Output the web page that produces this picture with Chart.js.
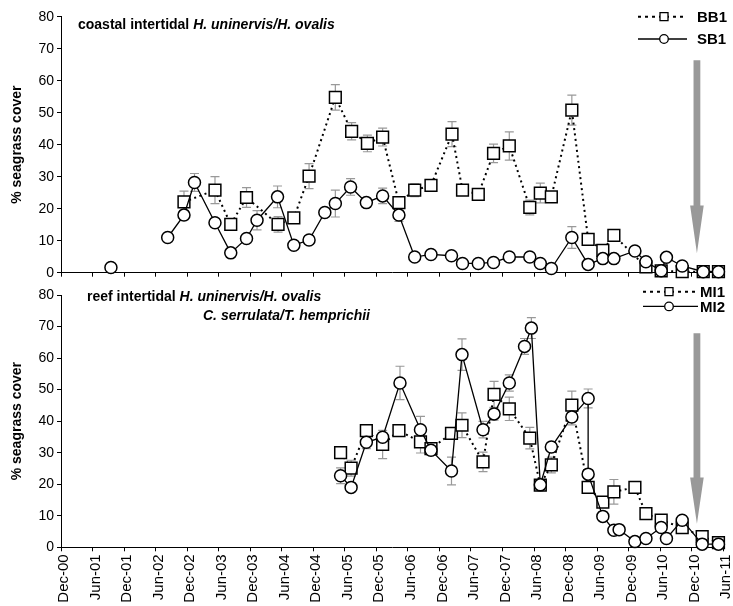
<!DOCTYPE html>
<html>
<head>
<meta charset="utf-8">
<script src="https://cdn.jsdelivr.net/npm/chart.js@4.4.1/dist/chart.umd.min.js"></script>
<style>
  body { margin: 0; background: #fff; }
  #wrap { position: relative; width: 733px; height: 606px; font-family: Arial, "Liberation Sans", sans-serif; }
  #wrap canvas { position: absolute; left: 0; }
  .ttl { position: absolute; font-weight: bold; font-size: 14px; line-height: 16px; white-space: nowrap; color: #000; }
</style>
</head>
<body>
<div id="wrap">
  <canvas id="topChart" width="733" height="285" style="top:0"></canvas>
  <canvas id="bottomChart" width="733" height="321" style="top:285px"></canvas>
  <div class="ttl" style="left:78px;top:16px">coastal intertidal <i>H. uninervis/H. ovalis</i></div>
  <div class="ttl" style="left:87px;top:288px">reef intertidal <i>H. uninervis/H. ovalis</i></div>
  <div class="ttl" style="left:203px;top:307px"><i>C. serrulata/T. hemprichii</i></div>
</div>
<script>
// months counted from Dec-00
let tickLabels = ['Dec-00', 'Jun-01', 'Dec-01', 'Jun-02', 'Dec-02', 'Jun-03', 'Dec-03', 'Jun-04',
  'Dec-04', 'Jun-05', 'Dec-05', 'Jun-06', 'Dec-06', 'Jun-07', 'Dec-07', 'Jun-08', 'Dec-08',
  'Jun-09', 'Dec-09', 'Jun-10', 'Dec-10', 'Jun-11'];

// coastal intertidal
let bb1Month = [23.4, 29.3, 32.3, 35.3, 41.3, 44.3, 47.2, 52.2, 55.3, 58.3, 61.2, 64.3, 67.3, 70.4, 74.4, 76.4,
  79.4, 82.3, 85.3, 89.2, 91.2, 93.3, 97.2, 100.3, 103.1, 105.2, 111.3, 114.2, 118.2, 122.2, 125.1];
let bb1Cover = [22.1, 25.8, 15.1, 23.5, 15.1, 17.1, 30.2, 54.8, 44.2, 40.4, 42.4, 21.9, 25.8, 27.3, 43.3, 25.8,
  24.5, 37.3, 39.6, 20.4, 24.9, 23.7, 50.8, 10.4, 7.0, 11.7, 1.8, 0.6, 0.3, 0.3, 0.3];
let bb1Err = [3.4, 4.2, 0, 3.1, 2.4, 0, 3.9, 4.0, 2.7, 2.6, 2.8, 1.5, 2, 1.5, 3.9, 1.5,
  1, 2.9, 4.4, 2.3, 3.1, 1, 4.7, 1, 0.8, 1, 0.5, 0.3, 0.3, 0.3, 0.3];

let sb1Month = [9.5, 15, 20.3, 23.4, 25.4, 29.3, 32.3, 35.3, 37.3, 41.2, 44.3, 47.2, 50.2, 52.2, 55.1, 58.1,
  61.2, 64.3, 67.3, 70.4, 74.3, 76.4, 79.4, 82.3, 85.3, 89.2, 91.2, 93.3, 97.2, 100.3, 103.1, 105.2,
  109.2, 111.3, 114.2, 115.2, 118.2, 122.2, 125.1];
let sb1Cover = [1.6, null, 11.0, 18.0, 28.2, 15.6, 6.2, 10.7, 16.4, 23.7, 8.6, 10.2, 18.8, 21.6, 26.8, 21.9,
  24.0, 18.0, 4.9, 5.7, 5.3, 2.9, 2.9, 3.2, 4.9, 4.9, 2.9, 1.3, 11.0, 2.6, 4.4, 4.4,
  6.8, 3.4, 0.6, 4.8, 2.1, 0.3, 0.3];
let sb1Err = [0, 0, 0.5, 1.5, 2.8, 1, 0.5, 1, 3, 3.4, 0.5, 0.5, 1, 4.2, 2.6, 1.5,
  2.4, 2, 0.5, 0.5, 0.5, 0.3, 0.3, 0.3, 0.5, 0.5, 0.3, 0.3, 3.4, 0.5, 0.5, 0.5,
  1, 0.5, 0.3, 0.5, 0.5, 0.3, 0.3];

// reef intertidal
let mi1Month = [53.2, 55.2, 58.1, 61.2, 64.3, 68.4, 70.4, 74.3, 76.3, 80.3, 82.4, 85.3, 89.2, 91.2, 93.3, 97.2,
  100.3, 103.1, 105.2, 109.2, 111.3, 114.2, 118.2, 122.0, 125.1];
let mi1Cover = [30.0, 25.1, 37.0, 32.6, 37.0, 33.4, 31.3, 36.1, 38.7, 27.1, 48.5, 43.9, 34.6, 19.7, 26.1, 45.1,
  19.0, 14.3, 17.6, 19.0, 10.7, 8.6, 6.2, 3.4, 1.5];
let mi1Err = [1.5, 2.5, 1.5, 4.5, 1.5, 3.5, 1.5, 1.5, 3.9, 3.1, 4.1, 3.7, 3.4, 1, 2.5, 4.4,
  1, 1, 3.9, 1.5, 1, 1, 1, 0.5, 0.5];

let mi2Month = [53.2, 55.2, 58.1, 61.2, 64.5, 68.4, 70.4, 74.3, 76.3, 80.3, 82.4, 85.3, 88.2, 89.5, 91.2, 93.3,
  97.2, 100.3, 100.3, 103.1, 105.2, 106.2, 109.2, 111.3, 114.2, 115.2, 118.2, 122.0, 125.1];
let mi2Cover = [22.7, 19.0, 33.3, 34.9, 52.1, 37.3, 30.8, 24.2, 61.1, 37.3, 42.3, 52.1, 63.7, 69.5, 19.8, 31.8,
  41.3, 47.2, 23.2, 9.8, 5.4, 5.6, 1.8, 2.8, 6.3, 2.8, 8.6, 1.0, 1.0];
let mi2Err = [2.5, 1, 2, 1.5, 5.3, 4.2, 1.5, 4.4, 5.0, 2.6, 2, 2.6, 2.5, 3.3, 1, 1.5,
  2.5, 3, 1, 1, 0.5, 0.5, 0.3, 0.3, 0.5, 0.3, 0.5, 0.3, 0.3];

// grey arrows at Dec-10: start, head base, tip (% cover)
let arrowMonth = 121;
let topArrow = [66.4, 21, 6.1];
let bottomArrow = [67.9, 22.1, 7.5];

const FONT = 'Arial, "Liberation Sans", sans-serif';

function toPoints(months, covers) {
  return months.map((m, i) => ({ x: m, y: covers[i] }));
}

const errorBarPlugin = {
  id: 'errorBars',
  beforeDatasetsDraw(chart) {
    const ctx = chart.ctx, xs = chart.scales.x, ys = chart.scales.y;
    ctx.save();
    ctx.strokeStyle = '#999';
    ctx.lineWidth = 1.2;
    chart.data.datasets.forEach(ds => {
      if (!ds.errors) return;
      ds.data.forEach((p, i) => {
        const e = ds.errors[i];
        if (p.y == null || !e) return;
        const px = xs.getPixelForValue(p.x);
        const top = ys.getPixelForValue(p.y + e);
        const bot = ys.getPixelForValue(Math.max(0, p.y - e));
        ctx.beginPath();
        ctx.moveTo(px, top); ctx.lineTo(px, bot);
        ctx.moveTo(px - 4.5, top); ctx.lineTo(px + 4.5, top);
        ctx.moveTo(px - 4.5, bot); ctx.lineTo(px + 4.5, bot);
        ctx.stroke();
      });
    });
    ctx.restore();
  }
};

const arrowPlugin = {
  id: 'greyArrow',
  afterDatasetsDraw(chart, args, opts) {
    const ctx = chart.ctx, xs = chart.scales.x, ys = chart.scales.y;
    const x = xs.getPixelForValue(opts.month);
    const y0 = ys.getPixelForValue(opts.values[0]);
    const yh = ys.getPixelForValue(opts.values[1]);
    const yt = ys.getPixelForValue(opts.values[2]);
    ctx.save();
    ctx.fillStyle = '#999';
    ctx.beginPath();
    ctx.moveTo(x - 3.4, y0); ctx.lineTo(x + 3.4, y0); ctx.lineTo(x + 3.4, yh);
    ctx.lineTo(x + 6.8, yh); ctx.lineTo(x, yt); ctx.lineTo(x - 6.8, yh);
    ctx.lineTo(x - 3.4, yh); ctx.closePath();
    ctx.fill();
    ctx.restore();
  }
};

const panelLegend = {
  id: 'panelLegend',
  afterDraw(chart, args, opts) {
    const ctx = chart.ctx;
    ctx.save();
    opts.items.forEach((it, i) => {
      const y = opts.y + i * opts.dy;
      ctx.strokeStyle = '#000';
      ctx.lineWidth = it.dotted ? 2 : 1.3;
      ctx.setLineDash(it.dotted ? [3, 4] : []);
      ctx.beginPath(); ctx.moveTo(opts.x0, y); ctx.lineTo(opts.x1, y); ctx.stroke();
      ctx.setLineDash([]);
      ctx.lineWidth = 1.3;
      ctx.fillStyle = '#fff';
      ctx.beginPath();
      if (it.marker === 'rect') ctx.rect(opts.xm - 4, y - 4, 8, 8);
      else ctx.arc(opts.xm, y, 4.3, 0, Math.PI * 2);
      ctx.fill(); ctx.stroke();
      ctx.fillStyle = '#000';
      ctx.font = 'bold 15px ' + FONT;
      ctx.textAlign = 'left';
      ctx.textBaseline = 'middle';
      ctx.fillText(it.text, opts.xt, y + 1);
    });
    ctx.restore();
  }
};

function dottedSet(label, months, covers, errs) {
  return {
    label: label, data: toPoints(months, covers), errors: errs,
    borderColor: '#000', borderWidth: 2, borderDash: [2, 3.5],
    pointStyle: 'rect', pointRadius: 8.3, pointBackgroundColor: '#fff',
    pointBorderColor: '#000', pointBorderWidth: 1.5, order: 2, clip: false
  };
}

function solidSet(label, months, covers, errs) {
  return {
    label: label, data: toPoints(months, covers), errors: errs,
    borderColor: '#000', borderWidth: 1.3, spanGaps: false,
    pointStyle: 'circle', pointRadius: 6, pointBackgroundColor: '#fff',
    pointBorderColor: '#000', pointBorderWidth: 1.5, order: 1, clip: false
  };
}

function makePanel(id, datasets, isBottom, legend, arrowValues) {
  return new Chart(document.getElementById(id), {
    type: 'line',
    data: { datasets: datasets },
    options: {
      responsive: false,
      animation: false,
      events: [],
      layout: { padding: { top: isBottom ? 7 : 16.7, right: 9.5, left: 0, bottom: 0 } },
      scales: {
        x: {
          type: 'linear', min: 0, max: 126,
          ticks: {
            stepSize: 6, autoSkip: false, display: isBottom, maxRotation: 90, minRotation: 90,
            color: '#000', font: { size: 15, family: FONT, lineHeight: 1 }, padding: 3, labelOffset: 3,
            callback: v => tickLabels[Math.round(v / 6)]
          },
          grid: { display: true, drawOnChartArea: false, drawTicks: true, tickLength: 4, color: '#000' },
          border: { display: true, color: '#000', width: 1 },
          afterFit: s => {
            s.height = isBottom ? 58.7 : 12.3;
            s.paddingLeft = 0;
            s.paddingRight = 0;
          }
        },
        y: {
          min: 0, max: 80,
          ticks: { stepSize: 10, color: '#000', font: { size: 14, family: FONT, lineHeight: 1 }, padding: 3 },
          grid: { display: true, drawOnChartArea: false, drawTicks: true, tickLength: 4, color: '#000' },
          border: { display: true, color: '#000', width: 1 },
          title: {
            display: true, text: '% seagrass cover', color: '#000',
            font: { size: 14, weight: 'bold', family: FONT }, padding: { top: 9, bottom: 0 }
          },
          afterFit: s => { s.width = 61; }
        }
      },
      plugins: {
        legend: { display: false },
        tooltip: { enabled: false },
        greyArrow: { month: arrowMonth, values: arrowValues },
        panelLegend: legend
      }
    },
    plugins: [errorBarPlugin, arrowPlugin, panelLegend]
  });
}

let topChart = makePanel('topChart', [
  dottedSet('BB1', bb1Month, bb1Cover, bb1Err),
  solidSet('SB1', sb1Month, sb1Cover, sb1Err)
], false, {
  items: [{ text: 'BB1', dotted: true, marker: 'rect' }, { text: 'SB1', dotted: false, marker: 'circle' }],
  y: 16.7, dy: 22.3, x0: 638, x1: 687, xm: 664, xt: 697
}, topArrow);

let bottomChart = makePanel('bottomChart', [
  dottedSet('MI1', mi1Month, mi1Cover, mi1Err),
  solidSet('MI2', mi2Month, mi2Cover, mi2Err)
], true, {
  items: [{ text: 'MI1', dotted: true, marker: 'rect' }, { text: 'MI2', dotted: false, marker: 'circle' }],
  y: 6.7, dy: 14.7, x0: 643, x1: 698, xm: 669, xt: 700
}, bottomArrow);
</script>
</body>
</html>
